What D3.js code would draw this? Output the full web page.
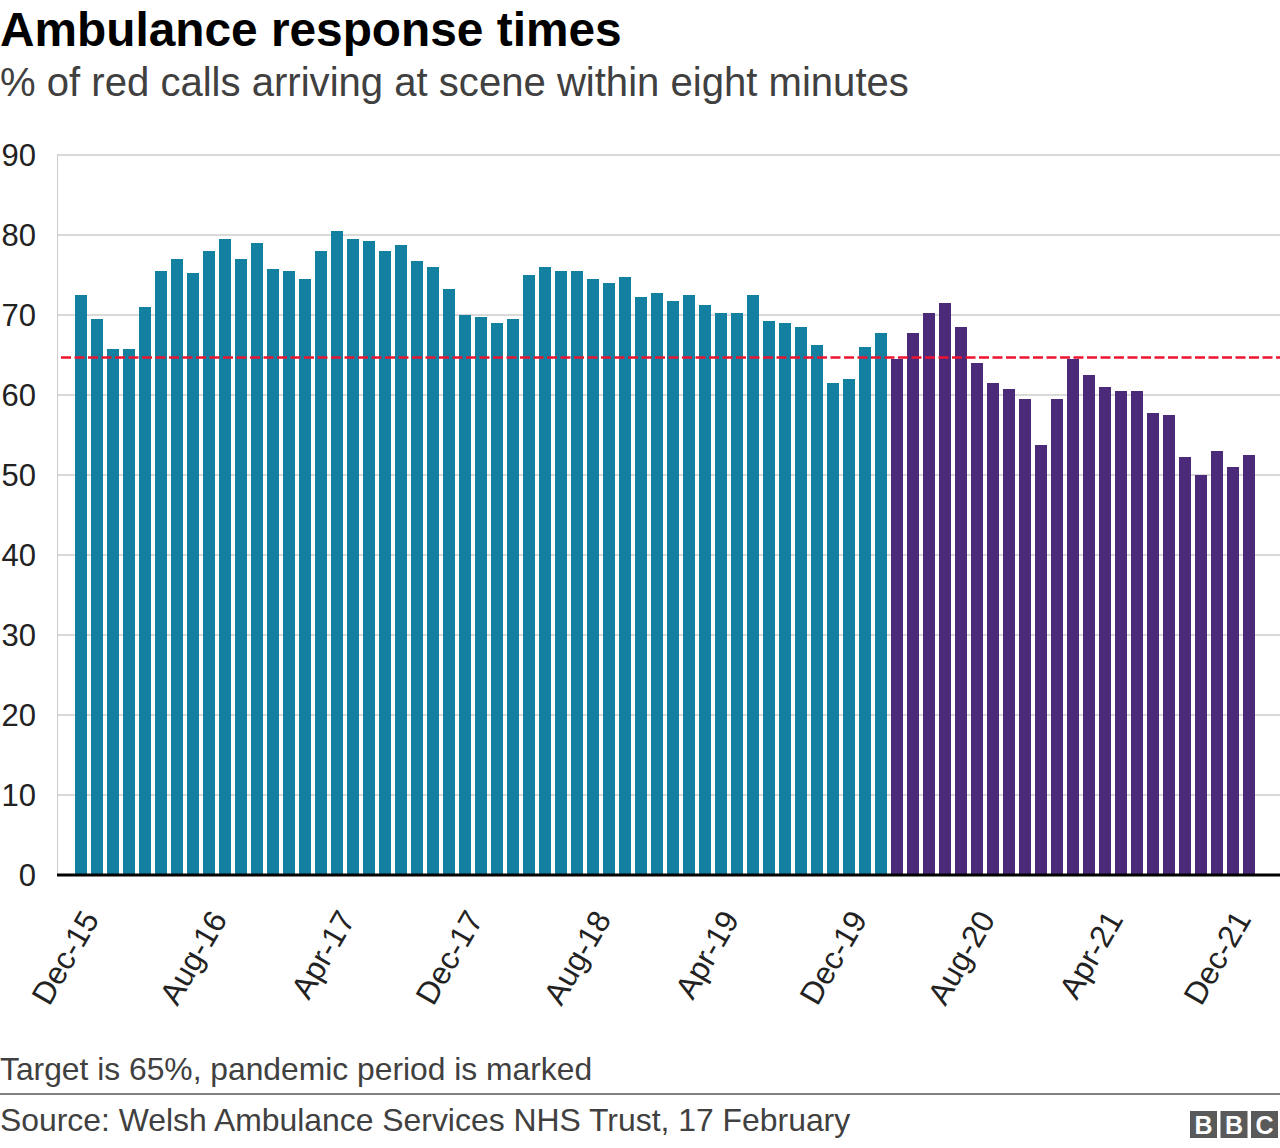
<!DOCTYPE html>
<html>
<head>
<meta charset="utf-8">
<script src="https://cdnjs.cloudflare.com/ajax/libs/d3/7.8.5/d3.min.js"></script>
<style>
  html, body { margin: 0; padding: 0; background: #fff; }
  svg { display: block; font-family: "Liberation Sans", Arial, Helvetica, sans-serif; }
</style>
</head>
<body>
<svg id="chart" width="1280" height="1148"></svg>
<script>
const months = [
  "Dec-15","Jan-16","Feb-16","Mar-16","Apr-16","May-16","Jun-16","Jul-16","Aug-16","Sep-16","Oct-16","Nov-16",
  "Dec-16","Jan-17","Feb-17","Mar-17","Apr-17","May-17","Jun-17","Jul-17","Aug-17","Sep-17","Oct-17","Nov-17",
  "Dec-17","Jan-18","Feb-18","Mar-18","Apr-18","May-18","Jun-18","Jul-18","Aug-18","Sep-18","Oct-18","Nov-18",
  "Dec-18","Jan-19","Feb-19","Mar-19","Apr-19","May-19","Jun-19","Jul-19","Aug-19","Sep-19","Oct-19","Nov-19",
  "Dec-19","Jan-20","Feb-20","Mar-20","Apr-20","May-20","Jun-20","Jul-20","Aug-20","Sep-20","Oct-20","Nov-20",
  "Dec-20","Jan-21","Feb-21","Mar-21","Apr-21","May-21","Jun-21","Jul-21","Aug-21","Sep-21","Oct-21","Nov-21",
  "Dec-21","Jan-22"
];
const values = [
  72.5, 69.5, 65.75, 65.75, 71.0, 75.5, 77.0, 75.25, 78.0, 79.5, 77.0, 79.0,
  75.75, 75.5, 74.5, 78.0, 80.5, 79.5, 79.25, 78.0, 78.75, 76.75, 76.0, 73.25,
  70.0, 69.75, 69.0, 69.5, 75.0, 76.0, 75.5, 75.5, 74.5, 74.0, 74.75, 72.25,
  72.75, 71.75, 72.5, 71.25, 70.25, 70.25, 72.5, 69.25, 69.0, 68.5, 66.25, 61.5,
  62.0, 66.0, 67.75, 64.5, 67.75, 70.25, 71.5, 68.5, 64.0, 61.5, 60.75, 59.5,
  53.75, 59.5, 64.5, 62.5, 61.0, 60.5, 60.5, 57.75, 57.5, 52.25, 50.0, 53.0,
  51.0, 52.5
];
const pandemicStart = "Mar-20";
const targetValue = [64.7];
const xTickLabels = ["Dec-15","Aug-16","Apr-17","Dec-17","Aug-18","Apr-19","Dec-19","Aug-20","Apr-21","Dec-21"];
const yTicks = [0,10,20,30,40,50,60,70,80,90];

const titleText = "Ambulance response times";
const subtitleText = "% of red calls arriving at scene within eight minutes";
const noteText = "Target is 65%, pandemic period is marked";
const sourceText = "Source: Welsh Ambulance Services NHS Trust, 17 February";

const colors = { normal: "#1380A1", pandemic: "#4B2A7A", grid: "#cccccc", target: "#EE1430" };

const svg = d3.select("#chart");
const plotLeft = 57, plotRight = 1280, plotTop = 155, plotBottom = 875;

const x = d3.scaleBand().domain(months).range([73, 1257]).paddingInner(0.25).paddingOuter(0.125);
const y = d3.scaleLinear().domain([0, 90]).range([plotBottom, plotTop]);

// Title & subtitle
svg.append("text").attr("x", 0).attr("y", 46)
  .attr("font-size", 47.8).attr("font-weight", "bold").attr("fill", "#000").text(titleText);
svg.append("text").attr("x", 0).attr("y", 96)
  .attr("font-size", 40.1).attr("fill", "#404040").text(subtitleText);

// Gridlines
svg.append("g").selectAll("line").data(yTicks.filter(d => d > 0)).join("line")
  .attr("x1", plotLeft).attr("x2", plotRight)
  .attr("y1", d => y(d)).attr("y2", d => y(d))
  .attr("stroke", colors.grid).attr("stroke-width", 1.5);
svg.append("line").attr("x1", plotLeft + 0.5).attr("x2", plotLeft + 0.5)
  .attr("y1", y(90)).attr("y2", y(0))
  .attr("stroke", colors.grid).attr("stroke-width", 1);

// Y labels
svg.append("g").selectAll("text").data(yTicks).join("text")
  .attr("x", 36).attr("y", d => y(d)).attr("dy", "0.35em")
  .attr("text-anchor", "end").attr("font-size", 31).attr("fill", "#222")
  .text(d => d);

// Bars
const pIdx = months.indexOf(pandemicStart);
svg.append("g").selectAll("rect").data(values).join("rect")
  .attr("x", (d, i) => x(months[i]))
  .attr("width", x.bandwidth())
  .attr("y", d => y(d))
  .attr("height", d => y(0) - y(d))
  .attr("fill", (d, i) => i >= pIdx ? colors.pandemic : colors.normal);

// Target line
svg.append("g").selectAll("line").data(targetValue).join("line")
  .attr("x1", plotLeft + 4).attr("x2", plotRight)
  .attr("y1", d => y(d)).attr("y2", d => y(d))
  .attr("stroke", colors.target).attr("stroke-width", 2.5)
  .attr("stroke-dasharray", "10,3.5");

// Baseline
svg.append("line").attr("x1", plotLeft).attr("x2", plotRight)
  .attr("y1", y(0)).attr("y2", y(0))
  .attr("stroke", "#000").attr("stroke-width", 3);

// X labels
svg.append("g").selectAll("text").data(xTickLabels).join("text")
  .attr("transform", d => `translate(${x(d) + x.bandwidth() / 2 + 19},919) rotate(-60)`)
  .attr("text-anchor", "end").attr("font-size", 31.5).attr("fill", "#222")
  .text(d => d);

// Footer
svg.append("text").attr("x", 0).attr("y", 1080)
  .attr("font-size", 31.8).attr("fill", "#404040").text(noteText);
svg.append("line").attr("x1", 0).attr("x2", 1280).attr("y1", 1094).attr("y2", 1094)
  .attr("stroke", "#808080").attr("stroke-width", 2);
svg.append("text").attr("x", 0).attr("y", 1131)
  .attr("font-size", 31.9).attr("fill", "#404040").text(sourceText);

// BBC logo
const logoLetters = ["B", "B", "C"];
const logo = svg.append("g").attr("transform", "translate(1190,1111)");
logo.selectAll("rect").data(logoLetters).join("rect")
  .attr("x", (d, i) => i * 30.5).attr("y", 0).attr("width", 27).attr("height", 27)
  .attr("fill", "#5a5a5a");
logo.selectAll("text").data(logoLetters).join("text")
  .attr("x", (d, i) => i * 30.5 + 13.5).attr("y", 22.5)
  .attr("text-anchor", "middle").attr("font-size", 25).attr("font-weight", "bold")
  .attr("fill", "#fff").text(d => d);
</script>
</body>
</html>
